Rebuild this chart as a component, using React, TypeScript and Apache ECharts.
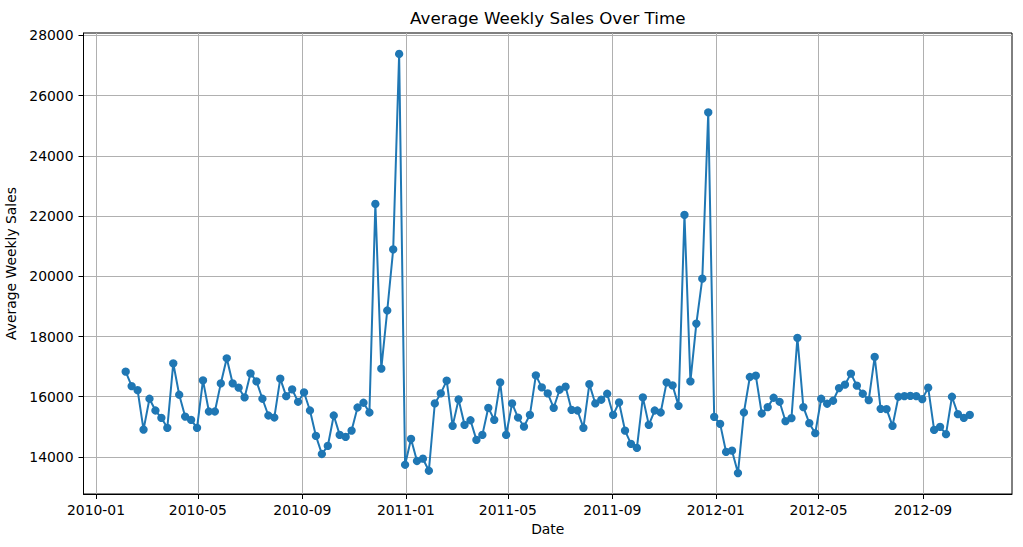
import React, { useEffect, useRef } from "react";
import * as echarts from "echarts";

const dates: string[] = [
  "2010-02-05","2010-02-12","2010-02-19","2010-02-26","2010-03-05","2010-03-12","2010-03-19","2010-03-26",
  "2010-04-02","2010-04-09","2010-04-16","2010-04-23","2010-04-30","2010-05-07","2010-05-14","2010-05-21",
  "2010-05-28","2010-06-04","2010-06-11","2010-06-18","2010-06-25","2010-07-02","2010-07-09","2010-07-16",
  "2010-07-23","2010-07-30","2010-08-06","2010-08-13","2010-08-20","2010-08-27","2010-09-03","2010-09-10",
  "2010-09-17","2010-09-24","2010-10-01","2010-10-08","2010-10-15","2010-10-22","2010-10-29","2010-11-05",
  "2010-11-12","2010-11-19","2010-11-26","2010-12-03","2010-12-10","2010-12-17","2010-12-24","2010-12-31",
  "2011-01-07","2011-01-14","2011-01-21","2011-01-28","2011-02-04","2011-02-11","2011-02-18","2011-02-25",
  "2011-03-04","2011-03-11","2011-03-18","2011-03-25","2011-04-01","2011-04-08","2011-04-15","2011-04-22",
  "2011-04-29","2011-05-06","2011-05-13","2011-05-20","2011-05-27","2011-06-03","2011-06-10","2011-06-17",
  "2011-06-24","2011-07-01","2011-07-08","2011-07-15","2011-07-22","2011-07-29","2011-08-05","2011-08-12",
  "2011-08-19","2011-08-26","2011-09-02","2011-09-09","2011-09-16","2011-09-23","2011-09-30","2011-10-07",
  "2011-10-14","2011-10-21","2011-10-28","2011-11-04","2011-11-11","2011-11-18","2011-11-25","2011-12-02",
  "2011-12-09","2011-12-16","2011-12-23","2011-12-30","2012-01-06","2012-01-13","2012-01-20","2012-01-27",
  "2012-02-03","2012-02-10","2012-02-17","2012-02-24","2012-03-02","2012-03-09","2012-03-16","2012-03-23",
  "2012-03-30","2012-04-06","2012-04-13","2012-04-20","2012-04-27","2012-05-04","2012-05-11","2012-05-18",
  "2012-05-25","2012-06-01","2012-06-08","2012-06-15","2012-06-22","2012-06-29","2012-07-06","2012-07-13",
  "2012-07-20","2012-07-27","2012-08-03","2012-08-10","2012-08-17","2012-08-24","2012-08-31","2012-09-07",
  "2012-09-14","2012-09-21","2012-09-28","2012-10-05","2012-10-12","2012-10-19","2012-10-26",
];

const avgSales: number[] = [
  16833, 16353, 16220, 14910, 15933, 15543, 15300, 14967, 17110, 16067,
  15343, 15233, 14967, 16543, 15510, 15510, 16443, 17277, 16443, 16300,
  15977, 16777, 16510, 15933, 15377, 15310, 16600, 16020, 16243, 15833,
  16143, 15543, 14700, 14100, 14367, 15377, 14733, 14667, 14877, 15643,
  15800, 15477, 22400, 16933, 18863, 20890, 27380, 13743, 14600, 13867,
  13943, 13543, 15777, 16110, 16533, 15033, 15910, 15067, 15220, 14567,
  14733, 15633, 15233, 16477, 14733, 15777, 15310, 15010, 15400, 16710,
  16310, 16110, 15633, 16233, 16333, 15567, 15543, 14967, 16420, 15777,
  15900, 16100, 15400, 15810, 14877, 14433, 14300, 15977, 15067, 15543,
  15477, 16477, 16377, 15700, 22040, 16510, 18430, 19920, 25440, 15333,
  15100, 14167, 14210, 13467, 15477, 16655, 16700, 15444, 15656, 15967,
  15833, 15189, 15289, 17955, 15656, 15122, 14789, 15933, 15767, 15867,
  16289, 16400, 16767, 16367, 16100, 15889, 17322, 15600, 15590, 15033,
  16000, 16022, 16030, 16022, 15922, 16300, 14900, 15000, 14756, 16000,
  15422, 15300, 15400,
];

const xTickLabels: string[] = [
  "2010-01", "2010-05", "2010-09", "2011-01", "2011-05", "2011-09", "2012-01", "2012-05", "2012-09",
];

const yTicks: number[] = [14000, 16000, 18000, 20000, 22000, 24000, 26000, 28000];

const toTs = (s: string) => Date.parse(s.length === 7 ? s + "-01T00:00:00Z" : s + "T00:00:00Z");

export default function App() {
  const ref = useRef<HTMLDivElement>(null);

  useEffect(() => {
    document.body.style.margin = "0";
    if (!ref.current) return;
    const chart = echarts.init(ref.current, undefined, { renderer: "svg" });

    const data = dates.map((d, i) => [toTs(d), avgSales[i]]);
    const first = toTs(dates[0]);
    const last = toTs(dates[dates.length - 1]);
    const span = last - first;
    const xMin = first - 0.05 * span;
    const xMax = last + 0.05 * span;
    const yLo = Math.min(...avgSales);
    const yHi = Math.max(...avgSales);
    const ySpan = yHi - yLo;
    const yMin = yLo - 0.05 * ySpan;
    const yMax = yHi + 0.05 * ySpan;

    const font = "DejaVu Sans";
    const plotLeft = 83.5;
    const plotRight = 1012;
    const xTickValues = xTickLabels.map(toTs);

    chart.setOption({
      animation: false,
      backgroundColor: "#ffffff",
      graphic: [
        {
          type: "text",
          x: (plotLeft + plotRight) / 2,
          y: 18,
          style: {
            text: "Average Weekly Sales Over Time",
            fontFamily: font,
            fontSize: 16.7,
            fill: "#000",
            textAlign: "center",
            textVerticalAlign: "middle",
          },
        },
      ],
      grid: {
        left: plotLeft,
        right: 1023 - plotRight,
        top: 33,
        bottom: 53,
        containLabel: false,
        outerBoundsMode: "none",
        show: true,
        borderColor: "#000",
        borderWidth: 1,
        backgroundColor: "transparent",
      },
      xAxis: {
        type: "value",
        min: xMin,
        max: xMax,
        scale: true,
        name: "Date",
        nameLocation: "middle",
        nameGap: 28,
        nameTextStyle: { fontFamily: font, fontSize: 13.9, color: "#000" },
        axisLine: { show: true, onZero: false, lineStyle: { color: "#000", width: 1 } },
        axisTick: {
          show: true,
          length: 5,
          lineStyle: { color: "#000", width: 1 },
          customValues: xTickValues,
        },
        axisLabel: {
          customValues: xTickValues,
          margin: 9,
          fontFamily: font,
          fontSize: 13.9,
          color: "#000",
          formatter: (v: number) => {
            const d = new Date(v);
            return `${d.getUTCFullYear()}-${String(d.getUTCMonth() + 1).padStart(2, "0")}`;
          },
        },
        splitLine: { show: true, lineStyle: { color: "#b0b0b0", width: 1 } },
      },
      yAxis: {
        type: "value",
        min: yMin,
        max: yMax,
        scale: true,
        name: "Average Weekly Sales",
        nameLocation: "middle",
        nameRotate: 90,
        nameGap: 58,
        nameTextStyle: { fontFamily: font, fontSize: 13.9, color: "#000" },
        axisLine: { show: true, onZero: false, lineStyle: { color: "#000", width: 1 } },
        axisTick: {
          show: true,
          length: 5,
          lineStyle: { color: "#000", width: 1 },
          customValues: yTicks,
        },
        axisLabel: {
          customValues: yTicks,
          margin: 10,
          fontFamily: font,
          fontSize: 13.9,
          color: "#000",
          formatter: (v: number) => String(Math.round(v)),
        },
        splitLine: { show: true, lineStyle: { color: "#b0b0b0", width: 1 } },
      },
      series: [
        {
          type: "line",
          data,
          symbol: "circle",
          symbolSize: 8.3,
          showAllSymbol: true,
          lineStyle: { color: "#1f77b4", width: 2 },
          itemStyle: { color: "#1f77b4", borderWidth: 0 },
        },
      ],
    });

    return () => chart.dispose();
  }, []);

  return <div ref={ref} style={{ width: 1023, height: 547 }} />;
}
